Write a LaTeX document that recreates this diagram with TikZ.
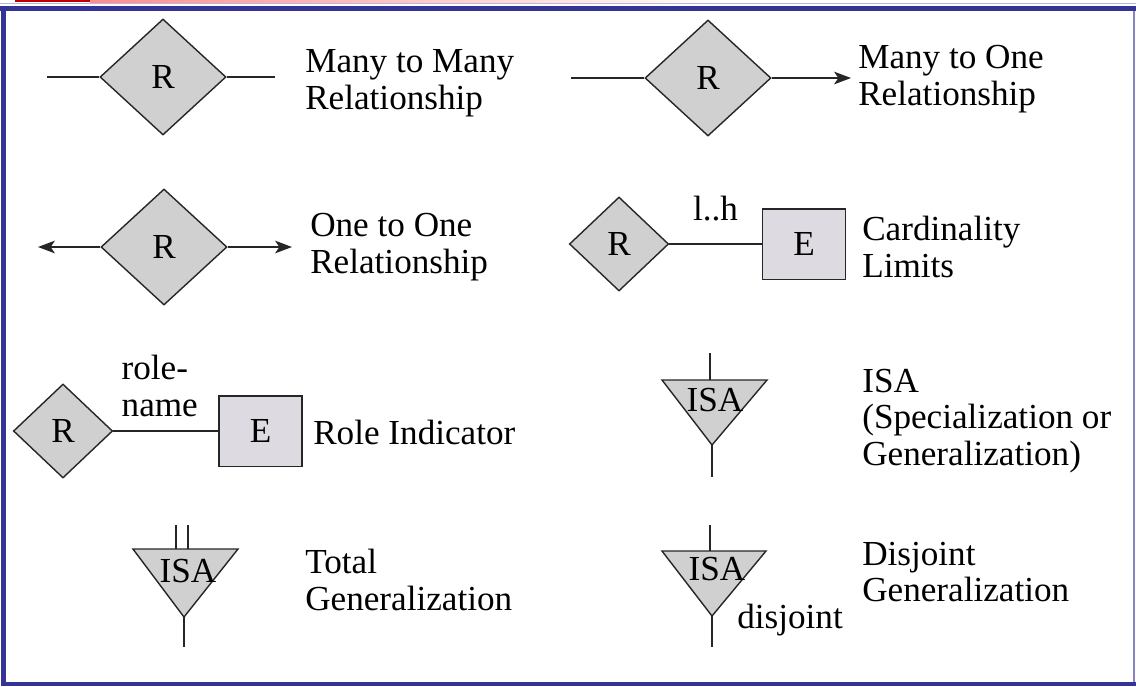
\documentclass[tikz,border=0pt]{standalone}
\usepackage{fontspec}
\setmainfont{Liberation Serif}
\usetikzlibrary{shapes.geometric, arrows.meta, positioning}

\definecolor{relgray}{RGB}{208,208,208}
\definecolor{entgray}{RGB}{221,219,225}
\definecolor{frameblue}{RGB}{52,52,150}

\tikzset{
  rel/.style={diamond, draw=black!85, line width=1pt, fill=relgray, inner sep=0pt,
    minimum width=3.15cm, minimum height=2.9cm},
  smallrel/.style={rel, minimum width=2.48cm, minimum height=2.35cm},
  ent/.style={draw=black!85, line width=1pt, fill=entgray, inner sep=0pt,
    minimum width=2.08cm, minimum height=1.76cm},
  isafill/.style={draw=black!85, line width=1pt, fill=relgray},
  legend/.style={anchor=west, align=left, inner sep=0pt},
  link/.style={black!85, line width=0.9pt},
  tip/.style={link, -{Stealth[length=12pt, width=9pt, inset=3pt]}},
}

\begin{document}
\begin{tikzpicture}[x=0.025cm, y=-0.025cm, font=\fontsize{25}{26}\selectfont]
  \useasboundingbox (0,0) rectangle (1136,686);

  % frame
  \fill [red!75!black] (15,0) rectangle (90,2);
  \shade [left color=red!45, right color=white] (90,0) rectangle (720,2);
  \draw [frameblue!35, line width=0.6pt] (0,3.5) -- (1136,3.5);
  \fill [frameblue] (0,6) rectangle (1136,11);
  \fill [frameblue] (1,6) rectangle (6,686);
  \fill [frameblue] (1,682) rectangle (1136,686);
  \fill [frameblue!60] (1133,11) rectangle (1135,682);

  % many to many
  \node [rel] (mm) at (163,77) {R};
  \coordinate (mmL) at (47,77);
  \coordinate (mmR) at (275,77);
  \draw [link] (mmL) -- (mm.west);
  \draw [link] (mm.east) -- (mmR);
  \node [legend] (mmtxt) at (305,83) {Many to Many\\Relationship};

  % many to one
  \node [rel] (mo) at (708,78) {R};
  \coordinate (moL) at (571,78);
  \coordinate (moR) at (851,78);
  \draw [link] (moL) -- (mo.west);
  \draw [tip] (mo.east) -- (moR);
  \node [legend] (motxt) at (858,79) {Many to One\\Relationship};

  % one to one
  \node [rel] (oo) at (164,247) {R};
  \coordinate (ooL) at (38,247);
  \coordinate (ooR) at (292,247);
  \draw [tip] (oo.west) -- (ooL);
  \draw [tip] (oo.east) -- (ooR);
  \node [legend] (ootxt) at (310,247) {One to One\\Relationship};

  % cardinality limits
  \node [smallrel] (cr) at (619,244) {R};
  \node [ent] (ce) at (804,244) {E};
  \draw [link] (cr.east) -- (ce.west)
    node [midway, above=0.55cm, inner sep=0pt, text=black] (lh) {l..h};
  \node [legend] (crtxt) at (862,247) {Cardinality\\Limits};

  % role indicator
  \node [smallrel] (rr) at (63,431) {R};
  \node [ent] (re) at (260.5,431) {E};
  \draw [link] (rr.east) -- (re.west)
    node [midway, above=0.35cm, xshift=-0.15cm, inner sep=0pt, align=left, text=black] (rn) {role-\\name};
  \node [legend] (rrtxt) at (313,432) {Role Indicator};

  % isa
  \filldraw [isafill] (662,380) -- (767,380) -- (712,445) -- cycle;
  \node (isa) at (715,400) {ISA};
  \coordinate (isaT) at (710,353);
  \coordinate (isaI) at (710,380);
  \coordinate (isaA) at (712,445);
  \coordinate (isaB) at (712,477);
  \draw [link] (isaT) -- (isaI);
  \draw [link] (isaA) -- (isaB);
  \node [legend] (isatxt) at (862,421) {ISA\\(Specialization or\\Generalization)};

  % total generalization
  \filldraw [isafill] (133,549) -- (238,549) -- (184,617) -- cycle;
  \node (tot) at (188,571) {ISA};
  \coordinate (totT1) at (176,525);
  \coordinate (totI1) at (176,549);
  \coordinate (totT2) at (188,525);
  \coordinate (totI2) at (188,549);
  \coordinate (totA) at (184,617);
  \coordinate (totB) at (184,647);
  \draw [link] (totT1) -- (totI1);
  \draw [link] (totT2) -- (totI2);
  \draw [link] (totA) -- (totB);
  \node [legend] (tottxt) at (305,580) {Total\\Generalization};

  % disjoint generalization
  \filldraw [isafill] (662,551) -- (766,551) -- (712,616) -- cycle;
  \node (dis) at (717,569) {ISA};
  \coordinate (disT) at (710,525);
  \coordinate (disI) at (710,551);
  \coordinate (disA) at (712,616);
  \coordinate (disB) at (712,647);
  \draw [link] (disT) -- (disI);
  \draw [link] (disA) -- (disB);
  \node [anchor=west, inner sep=0pt] (djt) at (737,620) {disjoint};
  \node [legend] (distxt) at (862,572) {Disjoint\\Generalization};
\end{tikzpicture}
\end{document}
